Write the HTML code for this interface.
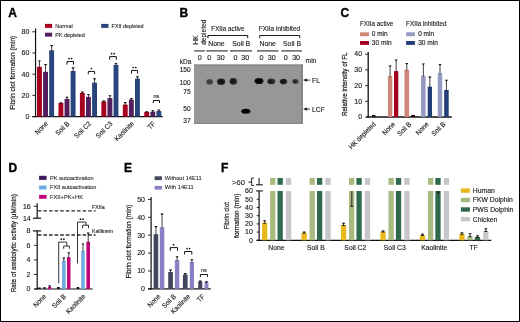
<!DOCTYPE html>
<html><head><meta charset="utf-8"><title>Figure</title>
<style>
html,body{margin:0;padding:0;background:#fff;}
body{width:520px;height:322px;overflow:hidden;}
svg{display:block;font-family:"Liberation Sans",sans-serif;}
</style></head><body>
<svg width="520" height="322" viewBox="0 0 520 322" fill="#1c1c1c">
<defs><filter id="nf" filterUnits="userSpaceOnUse" x="0" y="0" width="520" height="322" color-interpolation-filters="sRGB"><feGaussianBlur stdDeviation="0.35"/></filter></defs>
<rect x="0" y="0" width="520" height="322" fill="#fff"/>
<g filter="url(#nf)">
<text font-size="12" font-weight="bold" fill="#000" stroke="#000" stroke-width="0.35" transform="translate(8.20 17.10)">A</text>
<rect x="45.00" y="23.90" width="7.10" height="4.00" fill="#a6021f"/>
<text font-size="5.5" stroke="#1c1c1c" stroke-width="0.1" transform="translate(55.30 27.90) scale(0.98 1)">Normal</text>
<rect x="45.00" y="32.70" width="7.10" height="3.90" fill="#521e5d"/>
<text font-size="5.5" stroke="#1c1c1c" stroke-width="0.1" transform="translate(55.30 36.60) scale(0.98 1)">PK depleted</text>
<rect x="101.20" y="23.90" width="7.30" height="4.00" fill="#27447d"/>
<text font-size="5.5" stroke="#1c1c1c" stroke-width="0.1" transform="translate(111.60 27.90) scale(0.98 1)">FXII depleted</text>
<line x1="35.55" y1="28.40" x2="35.55" y2="117.20" stroke="#111" stroke-width="1.2"/>
<line x1="32.30" y1="116.60" x2="162.80" y2="116.60" stroke="#111" stroke-width="1.2"/>
<line x1="32.40" y1="116.60" x2="35.50" y2="116.60" stroke="#111" stroke-width="0.9"/>
<text font-size="7.0" text-anchor="end" stroke="#1c1c1c" stroke-width="0.14" transform="translate(29.30 118.90)">0</text>
<line x1="32.40" y1="95.40" x2="35.50" y2="95.40" stroke="#111" stroke-width="0.9"/>
<text font-size="7.0" text-anchor="end" stroke="#1c1c1c" stroke-width="0.14" transform="translate(29.30 97.70)">20</text>
<line x1="32.40" y1="74.20" x2="35.50" y2="74.20" stroke="#111" stroke-width="0.9"/>
<text font-size="7.0" text-anchor="end" stroke="#1c1c1c" stroke-width="0.14" transform="translate(29.30 76.50)">40</text>
<line x1="32.40" y1="53.00" x2="35.50" y2="53.00" stroke="#111" stroke-width="0.9"/>
<text font-size="7.0" text-anchor="end" stroke="#1c1c1c" stroke-width="0.14" transform="translate(29.30 55.30)">60</text>
<line x1="32.40" y1="31.80" x2="35.50" y2="31.80" stroke="#111" stroke-width="0.9"/>
<text font-size="7.0" text-anchor="end" stroke="#1c1c1c" stroke-width="0.14" transform="translate(29.30 34.10)">80</text>
<text font-size="7.4" text-anchor="middle" stroke="#1c1c1c" stroke-width="0.22" textLength="74.0" lengthAdjust="spacingAndGlyphs" transform="translate(15.30 72.70) rotate(-90)">Fibrin clot formation (min)</text>
<rect x="37.00" y="66.80" width="4.90" height="49.80" fill="#a6021f"/>
<line x1="39.45" y1="67.50" x2="39.45" y2="60.90" stroke="#111" stroke-width="0.8"/>
<path d="M37.80 60.40H41.10L40.00 61.80H38.90Z" fill="#111"/>
<rect x="43.10" y="71.80" width="4.90" height="44.80" fill="#521e5d"/>
<line x1="45.55" y1="72.50" x2="45.55" y2="64.60" stroke="#111" stroke-width="0.8"/>
<path d="M43.90 64.10H47.20L46.10 65.50H45.00Z" fill="#111"/>
<rect x="49.20" y="50.30" width="4.90" height="66.30" fill="#27447d"/>
<line x1="51.65" y1="51.00" x2="51.65" y2="45.60" stroke="#111" stroke-width="0.8"/>
<path d="M50.00 45.10H53.30L52.20 46.50H51.10Z" fill="#111"/>
<text font-size="7.0" text-anchor="end" stroke="#1c1c1c" stroke-width="0.14" transform="translate(48.60 124.30) rotate(-45) scale(0.91 1)">None</text>
<rect x="58.45" y="103.00" width="4.90" height="13.60" fill="#a6021f"/>
<line x1="60.90" y1="103.70" x2="60.90" y2="102.70" stroke="#111" stroke-width="0.8"/>
<path d="M59.25 102.20H62.55L61.45 103.60H60.35Z" fill="#111"/>
<rect x="64.55" y="98.90" width="4.90" height="17.70" fill="#521e5d"/>
<line x1="67.00" y1="99.60" x2="67.00" y2="97.20" stroke="#111" stroke-width="0.8"/>
<path d="M65.35 96.70H68.65L67.55 98.10H66.45Z" fill="#111"/>
<rect x="70.65" y="71.00" width="4.90" height="45.60" fill="#27447d"/>
<line x1="73.10" y1="71.70" x2="73.10" y2="67.80" stroke="#111" stroke-width="0.8"/>
<path d="M71.45 67.30H74.75L73.65 68.70H72.55Z" fill="#111"/>
<text font-size="7.0" text-anchor="end" stroke="#1c1c1c" stroke-width="0.14" transform="translate(70.05 124.30) rotate(-45) scale(0.91 1)">Soil B</text>
<rect x="79.90" y="92.90" width="4.90" height="23.70" fill="#a6021f"/>
<line x1="82.35" y1="93.60" x2="82.35" y2="92.10" stroke="#111" stroke-width="0.8"/>
<path d="M80.70 91.60H84.00L82.90 93.00H81.80Z" fill="#111"/>
<rect x="86.00" y="96.90" width="4.90" height="19.70" fill="#521e5d"/>
<line x1="88.45" y1="97.60" x2="88.45" y2="94.40" stroke="#111" stroke-width="0.8"/>
<path d="M86.80 93.90H90.10L89.00 95.30H87.90Z" fill="#111"/>
<rect x="92.10" y="82.70" width="4.90" height="33.90" fill="#27447d"/>
<line x1="94.55" y1="83.40" x2="94.55" y2="78.80" stroke="#111" stroke-width="0.8"/>
<path d="M92.90 78.30H96.20L95.10 79.70H94.00Z" fill="#111"/>
<text font-size="7.0" text-anchor="end" stroke="#1c1c1c" stroke-width="0.14" transform="translate(91.50 124.30) rotate(-45) scale(0.91 1)">Soil C2</text>
<rect x="101.35" y="101.40" width="4.90" height="15.20" fill="#a6021f"/>
<line x1="103.80" y1="102.10" x2="103.80" y2="101.00" stroke="#111" stroke-width="0.8"/>
<path d="M102.15 100.50H105.45L104.35 101.90H103.25Z" fill="#111"/>
<rect x="107.45" y="98.10" width="4.90" height="18.50" fill="#521e5d"/>
<line x1="109.90" y1="98.80" x2="109.90" y2="95.70" stroke="#111" stroke-width="0.8"/>
<path d="M108.25 95.20H111.55L110.45 96.60H109.35Z" fill="#111"/>
<rect x="113.55" y="64.90" width="4.90" height="51.70" fill="#27447d"/>
<line x1="116.00" y1="65.60" x2="116.00" y2="63.40" stroke="#111" stroke-width="0.8"/>
<path d="M114.35 62.90H117.65L116.55 64.30H115.45Z" fill="#111"/>
<text font-size="7.0" text-anchor="end" stroke="#1c1c1c" stroke-width="0.14" transform="translate(112.95 124.30) rotate(-45) scale(0.91 1)">Soil C3</text>
<rect x="122.80" y="104.60" width="4.90" height="12.00" fill="#a6021f"/>
<line x1="125.25" y1="105.30" x2="125.25" y2="102.60" stroke="#111" stroke-width="0.8"/>
<path d="M123.60 102.10H126.90L125.80 103.50H124.70Z" fill="#111"/>
<rect x="128.90" y="99.60" width="4.90" height="17.00" fill="#521e5d"/>
<line x1="131.35" y1="100.30" x2="131.35" y2="98.40" stroke="#111" stroke-width="0.8"/>
<path d="M129.70 97.90H133.00L131.90 99.30H130.80Z" fill="#111"/>
<rect x="135.00" y="78.70" width="4.90" height="37.90" fill="#27447d"/>
<line x1="137.45" y1="79.40" x2="137.45" y2="76.80" stroke="#111" stroke-width="0.8"/>
<path d="M135.80 76.30H139.10L138.00 77.70H136.90Z" fill="#111"/>
<text font-size="7.0" text-anchor="end" stroke="#1c1c1c" stroke-width="0.14" transform="translate(134.40 124.30) rotate(-45) scale(0.91 1)">Kaolinite</text>
<rect x="144.25" y="111.90" width="4.90" height="4.70" fill="#a6021f"/>
<line x1="146.70" y1="112.60" x2="146.70" y2="111.70" stroke="#111" stroke-width="0.8"/>
<path d="M145.05 111.20H148.35L147.25 112.60H146.15Z" fill="#111"/>
<rect x="150.35" y="111.70" width="4.90" height="4.90" fill="#521e5d"/>
<line x1="152.80" y1="112.40" x2="152.80" y2="110.70" stroke="#111" stroke-width="0.8"/>
<path d="M151.15 110.20H154.45L153.35 111.60H152.25Z" fill="#111"/>
<rect x="156.45" y="111.00" width="4.90" height="5.60" fill="#27447d"/>
<line x1="158.90" y1="111.70" x2="158.90" y2="109.90" stroke="#111" stroke-width="0.8"/>
<path d="M157.25 109.40H160.55L159.45 110.80H158.35Z" fill="#111"/>
<text font-size="7.0" text-anchor="end" stroke="#1c1c1c" stroke-width="0.14" transform="translate(155.85 124.30) rotate(-45) scale(0.91 1)">TF</text>
<path d="M67.00 64.60V61.50H73.50V64.60" fill="none" stroke="#111" stroke-width="1.0"/>
<circle cx="68.90" cy="58.60" r="0.85" fill="#111"/>
<circle cx="71.50" cy="58.60" r="0.85" fill="#111"/>
<path d="M88.30 74.30V71.40H94.60V74.30" fill="none" stroke="#111" stroke-width="1.0"/>
<circle cx="91.40" cy="68.50" r="0.85" fill="#111"/>
<path d="M109.70 59.70V56.60H116.30V59.70" fill="none" stroke="#111" stroke-width="1.0"/>
<circle cx="111.60" cy="53.70" r="0.85" fill="#111"/>
<circle cx="114.20" cy="53.70" r="0.85" fill="#111"/>
<path d="M131.50 73.50V70.40H137.60V73.50" fill="none" stroke="#111" stroke-width="1.0"/>
<circle cx="133.20" cy="67.50" r="0.85" fill="#111"/>
<circle cx="135.80" cy="67.50" r="0.85" fill="#111"/>
<path d="M153.30 103.00V100.50H159.50V103.00" fill="none" stroke="#111" stroke-width="1.0"/>
<text font-size="5.6" text-anchor="middle" stroke="#1c1c1c" stroke-width="0.12" transform="translate(156.40 97.60)">ns</text>
<text font-size="12" font-weight="bold" fill="#000" stroke="#000" stroke-width="0.35" transform="translate(179.50 16.90)">B</text>
<text font-size="6.8" stroke="#1c1c1c" stroke-width="0.14" transform="translate(197.90 44.80) rotate(-90)">HK</text>
<text font-size="7.2" stroke="#1c1c1c" stroke-width="0.14" textLength="25.0" lengthAdjust="spacingAndGlyphs" transform="translate(205.60 44.80) rotate(-90)">depleted</text>
<text font-size="7.0" stroke="#1c1c1c" stroke-width="0.14" textLength="33.2" lengthAdjust="spacingAndGlyphs" transform="translate(211.30 30.60)">FXIIa active</text>
<path d="M208.00 38.20V35.50H247.70V38.20" fill="none" stroke="#111" stroke-width="0.95"/>
<text font-size="7.0" stroke="#1c1c1c" stroke-width="0.14" textLength="41.4" lengthAdjust="spacingAndGlyphs" transform="translate(258.70 30.60)">FXIIa inhibited</text>
<path d="M259.70 38.20V35.50H299.70V38.20" fill="none" stroke="#111" stroke-width="0.95"/>
<text font-size="6.9" text-anchor="middle" stroke="#1c1c1c" stroke-width="0.14" transform="translate(216.40 45.80)">None</text>
<text font-size="6.9" text-anchor="middle" stroke="#1c1c1c" stroke-width="0.14" transform="translate(241.20 45.80)">Soil B</text>
<text font-size="6.9" text-anchor="middle" stroke="#1c1c1c" stroke-width="0.14" transform="translate(267.70 45.80)">None</text>
<text font-size="6.9" text-anchor="middle" stroke="#1c1c1c" stroke-width="0.14" transform="translate(292.00 45.80)">Soil B</text>
<line x1="194.20" y1="50.90" x2="204.70" y2="50.90" stroke="#3a3a3a" stroke-width="1.2"/>
<line x1="206.20" y1="50.90" x2="227.80" y2="50.90" stroke="#3a3a3a" stroke-width="1.2"/>
<line x1="230.00" y1="50.90" x2="252.10" y2="50.90" stroke="#3a3a3a" stroke-width="1.2"/>
<line x1="257.00" y1="50.90" x2="278.40" y2="50.90" stroke="#3a3a3a" stroke-width="1.2"/>
<line x1="281.30" y1="50.90" x2="302.00" y2="50.90" stroke="#3a3a3a" stroke-width="1.2"/>
<text font-size="7.0" stroke="#1c1c1c" stroke-width="0.14" transform="translate(179.80 63.50) scale(0.93 1)">kDa</text>
<text font-size="7.1" text-anchor="middle" stroke="#1c1c1c" stroke-width="0.14" transform="translate(199.80 60.20)">0</text>
<text font-size="7.1" text-anchor="middle" stroke="#1c1c1c" stroke-width="0.14" transform="translate(209.30 60.20)">0</text>
<text font-size="7.1" text-anchor="middle" stroke="#1c1c1c" stroke-width="0.14" transform="translate(220.70 60.20)">30</text>
<text font-size="7.1" text-anchor="middle" stroke="#1c1c1c" stroke-width="0.14" transform="translate(235.50 60.20)">0</text>
<text font-size="7.1" text-anchor="middle" stroke="#1c1c1c" stroke-width="0.14" transform="translate(245.30 60.20)">30</text>
<text font-size="7.1" text-anchor="middle" stroke="#1c1c1c" stroke-width="0.14" transform="translate(261.40 60.20)">0</text>
<text font-size="7.1" text-anchor="middle" stroke="#1c1c1c" stroke-width="0.14" transform="translate(271.80 60.20)">30</text>
<text font-size="7.1" text-anchor="middle" stroke="#1c1c1c" stroke-width="0.14" transform="translate(285.70 60.20)">0</text>
<text font-size="7.1" text-anchor="middle" stroke="#1c1c1c" stroke-width="0.14" transform="translate(296.10 60.20)">30</text>
<text font-size="7.0" stroke="#1c1c1c" stroke-width="0.14" transform="translate(305.60 62.90) scale(0.95 1)">min</text>
<defs><filter id="bl" x="-50%" y="-50%" width="200%" height="200%" color-interpolation-filters="sRGB"><feGaussianBlur stdDeviation="0.75"/></filter></defs>
<rect x="194.00" y="64.60" width="108.50" height="59.30" fill="#979797"/>
<line x1="194.00" y1="65.00" x2="302.50" y2="65.00" stroke="#777777" stroke-width="0.8"/>
<line x1="302.20" y1="64.30" x2="302.20" y2="123.80" stroke="#5c5c5c" stroke-width="0.9"/>
<line x1="194.00" y1="123.40" x2="302.60" y2="123.40" stroke="#7a7a7a" stroke-width="0.7"/>
<g filter="url(#bl)">
<ellipse cx="209.7" cy="81.8" rx="3.4" ry="2.9" fill="#4a4a4a"/>
<ellipse cx="209.39999999999998" cy="81.8" rx="2.2" ry="1.9" fill="#3a3a3a"/>
<ellipse cx="221.1" cy="81.8" rx="4.1" ry="3.3" fill="#262626"/>
<ellipse cx="221.1" cy="81.8" rx="2.6" ry="2.2" fill="#141414"/>
<ellipse cx="233.3" cy="81.3" rx="3.8" ry="3.4" fill="#2c2c2c"/>
<ellipse cx="232.8" cy="81.3" rx="2.4" ry="2.2" fill="#181818"/>
<ellipse cx="259.0" cy="81.0" rx="4.5" ry="3.1" fill="#141414"/>
<ellipse cx="259.0" cy="81.0" rx="3.4" ry="2.2" fill="#060606"/>
<ellipse cx="271.3" cy="81.4" rx="4.0" ry="2.8" fill="#333333"/>
<ellipse cx="270.40000000000003" cy="81.4" rx="2.4" ry="2.0" fill="#1a1a1a"/>
<ellipse cx="283.5" cy="81.6" rx="3.7" ry="2.8" fill="#2a2a2a"/>
<ellipse cx="283.2" cy="81.6" rx="2.4" ry="2.0" fill="#161616"/>
<ellipse cx="295.5" cy="81.4" rx="3.2" ry="2.5" fill="#444444"/>
<ellipse cx="295.0" cy="81.4" rx="2.0" ry="1.8" fill="#2a2a2a"/>
<ellipse cx="245.8" cy="111.3" rx="4.6" ry="2.5" fill="#0a0a0a"/>
<ellipse cx="245.3" cy="111.3" rx="3.4" ry="1.8" fill="#000000"/>
</g>
<text font-size="6.9" text-anchor="end" stroke="#1c1c1c" stroke-width="0.14" transform="translate(190.60 71.70) scale(0.95 1)">150</text>
<text font-size="6.9" text-anchor="end" stroke="#1c1c1c" stroke-width="0.14" transform="translate(190.60 84.70) scale(0.95 1)">100</text>
<text font-size="6.9" text-anchor="end" stroke="#1c1c1c" stroke-width="0.14" transform="translate(190.60 93.50) scale(0.95 1)">75</text>
<text font-size="6.9" text-anchor="end" stroke="#1c1c1c" stroke-width="0.14" transform="translate(190.60 110.80) scale(0.95 1)">50</text>
<text font-size="6.9" text-anchor="end" stroke="#1c1c1c" stroke-width="0.14" transform="translate(190.60 123.30) scale(0.95 1)">37</text>
<line x1="305.00" y1="80.10" x2="309.80" y2="80.10" stroke="#111" stroke-width="0.9"/>
<path d="M303.2 80.10L306.8 78.40L306.8 81.80Z" fill="#111"/>
<text font-size="7.1" stroke="#1c1c1c" stroke-width="0.14" transform="translate(312.10 82.60) scale(0.95 1)">FL</text>
<line x1="305.00" y1="109.10" x2="309.80" y2="109.10" stroke="#111" stroke-width="0.9"/>
<path d="M303.2 109.10L306.8 107.40L306.8 110.80Z" fill="#111"/>
<text font-size="7.1" stroke="#1c1c1c" stroke-width="0.14" transform="translate(312.10 111.60) scale(0.95 1)">LCF</text>
<text font-size="12" font-weight="bold" fill="#000" stroke="#000" stroke-width="0.35" transform="translate(340.60 17.00)">C</text>
<text font-size="6.8" stroke="#1c1c1c" stroke-width="0.14" transform="translate(360.00 25.90) scale(0.93 1)">FXIIa active</text>
<text font-size="6.8" stroke="#1c1c1c" stroke-width="0.14" transform="translate(406.10 25.90) scale(0.93 1)">FXIIa inhibited</text>
<rect x="360.00" y="32.30" width="9.00" height="3.90" fill="#cf8878"/>
<text font-size="6.6" stroke="#1c1c1c" stroke-width="0.14" transform="translate(371.80 36.30) scale(0.98 1)">0 min</text>
<rect x="360.00" y="41.00" width="9.00" height="3.90" fill="#a6021f"/>
<text font-size="6.6" stroke="#1c1c1c" stroke-width="0.14" transform="translate(371.80 45.00)">30 min</text>
<rect x="406.10" y="32.30" width="8.80" height="3.90" fill="#9399c0"/>
<text font-size="6.6" stroke="#1c1c1c" stroke-width="0.14" transform="translate(418.20 36.30) scale(0.98 1)">0 min</text>
<rect x="406.10" y="41.00" width="8.80" height="3.90" fill="#223f7a"/>
<text font-size="6.6" stroke="#1c1c1c" stroke-width="0.14" transform="translate(418.20 45.00)">30 min</text>
<line x1="368.20" y1="52.00" x2="368.20" y2="117.60" stroke="#111" stroke-width="1.3"/>
<line x1="366.50" y1="117.00" x2="451.80" y2="117.00" stroke="#111" stroke-width="1.3"/>
<line x1="365.20" y1="117.00" x2="368.20" y2="117.00" stroke="#111" stroke-width="0.9"/>
<text font-size="6.9" text-anchor="end" stroke="#1c1c1c" stroke-width="0.14" transform="translate(362.00 119.20)">0</text>
<line x1="365.20" y1="101.30" x2="368.20" y2="101.30" stroke="#111" stroke-width="0.9"/>
<text font-size="6.9" text-anchor="end" stroke="#1c1c1c" stroke-width="0.14" transform="translate(362.00 103.50)">10</text>
<line x1="365.20" y1="85.60" x2="368.20" y2="85.60" stroke="#111" stroke-width="0.9"/>
<text font-size="6.9" text-anchor="end" stroke="#1c1c1c" stroke-width="0.14" transform="translate(362.00 87.80)">20</text>
<line x1="365.20" y1="69.90" x2="368.20" y2="69.90" stroke="#111" stroke-width="0.9"/>
<text font-size="6.9" text-anchor="end" stroke="#1c1c1c" stroke-width="0.14" transform="translate(362.00 72.10)">30</text>
<line x1="365.20" y1="54.20" x2="368.20" y2="54.20" stroke="#111" stroke-width="0.9"/>
<text font-size="6.9" text-anchor="end" stroke="#1c1c1c" stroke-width="0.14" transform="translate(362.00 56.40)">40</text>
<text font-size="7.6" text-anchor="middle" stroke="#1c1c1c" stroke-width="0.24" textLength="63.5" lengthAdjust="spacingAndGlyphs" transform="translate(347.30 84.20) rotate(-90)">Relative intensity of FL</text>
<rect x="372.00" y="114.90" width="3.40" height="2.10" fill="#111111"/>
<rect x="387.90" y="76.10" width="4.40" height="40.90" fill="#cf8878"/>
<line x1="390.10" y1="76.80" x2="390.10" y2="65.90" stroke="#111" stroke-width="0.8"/>
<path d="M388.45 65.40H391.75L390.65 66.80H389.55Z" fill="#111"/>
<rect x="394.00" y="71.10" width="4.30" height="45.90" fill="#a6021f"/>
<line x1="396.15" y1="71.80" x2="396.15" y2="59.90" stroke="#111" stroke-width="0.8"/>
<path d="M394.50 59.40H397.80L396.70 60.80H395.60Z" fill="#111"/>
<rect x="404.50" y="69.80" width="4.60" height="47.20" fill="#cf8878"/>
<line x1="406.80" y1="70.50" x2="406.80" y2="63.40" stroke="#111" stroke-width="0.8"/>
<path d="M405.15 62.90H408.45L407.35 64.30H406.25Z" fill="#111"/>
<rect x="411.20" y="114.90" width="3.80" height="2.10" fill="#1c0409"/>
<rect x="421.10" y="75.80" width="4.50" height="41.20" fill="#9399c0"/>
<line x1="423.35" y1="76.50" x2="423.35" y2="63.90" stroke="#111" stroke-width="0.8"/>
<path d="M421.70 63.40H425.00L423.90 64.80H422.80Z" fill="#111"/>
<rect x="427.70" y="86.70" width="4.30" height="30.30" fill="#223f7a"/>
<line x1="429.85" y1="87.40" x2="429.85" y2="77.10" stroke="#111" stroke-width="0.8"/>
<path d="M428.20 76.60H431.50L430.40 78.00H429.30Z" fill="#111"/>
<rect x="437.80" y="73.30" width="4.40" height="43.70" fill="#9399c0"/>
<line x1="440.00" y1="74.00" x2="440.00" y2="64.40" stroke="#111" stroke-width="0.8"/>
<path d="M438.35 63.90H441.65L440.55 65.30H439.45Z" fill="#111"/>
<rect x="444.20" y="90.00" width="4.50" height="27.00" fill="#223f7a"/>
<line x1="446.45" y1="90.70" x2="446.45" y2="80.30" stroke="#111" stroke-width="0.8"/>
<path d="M444.80 79.80H448.10L447.00 81.20H445.90Z" fill="#111"/>
<text font-size="7.0" text-anchor="end" stroke="#1c1c1c" stroke-width="0.14" transform="translate(376.30 124.70) rotate(-45) scale(0.91 1)">HK depleted</text>
<text font-size="7.0" text-anchor="end" stroke="#1c1c1c" stroke-width="0.14" transform="translate(395.70 124.70) rotate(-45) scale(0.91 1)">None</text>
<text font-size="7.0" text-anchor="end" stroke="#1c1c1c" stroke-width="0.14" transform="translate(411.70 124.70) rotate(-45) scale(0.91 1)">Soil B</text>
<text font-size="7.0" text-anchor="end" stroke="#1c1c1c" stroke-width="0.14" transform="translate(429.30 124.70) rotate(-45) scale(0.91 1)">None</text>
<text font-size="7.0" text-anchor="end" stroke="#1c1c1c" stroke-width="0.14" transform="translate(446.00 124.70) rotate(-45) scale(0.91 1)">Soil B</text>
<text font-size="12" font-weight="bold" fill="#000" stroke="#000" stroke-width="0.35" transform="translate(8.40 171.70)">D</text>
<rect x="39.10" y="175.80" width="7.50" height="4.10" fill="#3d1b5b"/>
<text font-size="5.6" stroke="#1c1c1c" stroke-width="0.08" transform="translate(50.00 179.80)">PK autoactivation</text>
<rect x="39.10" y="185.60" width="7.50" height="3.90" fill="#6aa9e2"/>
<text font-size="5.6" stroke="#1c1c1c" stroke-width="0.08" transform="translate(50.00 189.30)">FXII autoactivation</text>
<rect x="39.10" y="194.90" width="7.50" height="3.90" fill="#c2047a"/>
<text font-size="5.7" stroke="#1c1c1c" stroke-width="0.08" textLength="33.0" lengthAdjust="spacingAndGlyphs" transform="translate(50.00 198.90)">FXII+PK+HK</text>
<line x1="37.20" y1="203.20" x2="37.20" y2="218.20" stroke="#111" stroke-width="1.2"/>
<line x1="33.90" y1="206.30" x2="37.20" y2="206.30" stroke="#111" stroke-width="0.9"/>
<line x1="33.00" y1="218.20" x2="41.10" y2="218.20" stroke="#111" stroke-width="1.2"/>
<text font-size="7.0" text-anchor="end" stroke="#1c1c1c" stroke-width="0.14" transform="translate(30.70 208.50)">16</text>
<text font-size="7.0" text-anchor="end" stroke="#1c1c1c" stroke-width="0.14" transform="translate(30.70 220.50)">14</text>
<line x1="33.00" y1="230.90" x2="41.10" y2="230.90" stroke="#111" stroke-width="1.2"/>
<line x1="37.20" y1="230.90" x2="37.20" y2="289.60" stroke="#111" stroke-width="1.2"/>
<line x1="34.00" y1="289.00" x2="37.20" y2="289.00" stroke="#111" stroke-width="0.9"/>
<text font-size="7.0" text-anchor="end" stroke="#1c1c1c" stroke-width="0.14" transform="translate(30.30 291.30)">0</text>
<line x1="34.00" y1="274.46" x2="37.20" y2="274.46" stroke="#111" stroke-width="0.9"/>
<text font-size="7.0" text-anchor="end" stroke="#1c1c1c" stroke-width="0.14" transform="translate(30.30 276.76)">2</text>
<line x1="34.00" y1="259.92" x2="37.20" y2="259.92" stroke="#111" stroke-width="0.9"/>
<text font-size="7.0" text-anchor="end" stroke="#1c1c1c" stroke-width="0.14" transform="translate(30.30 262.22)">4</text>
<line x1="34.00" y1="245.38" x2="37.20" y2="245.38" stroke="#111" stroke-width="0.9"/>
<text font-size="7.0" text-anchor="end" stroke="#1c1c1c" stroke-width="0.14" transform="translate(30.30 247.68)">6</text>
<text font-size="7.0" text-anchor="end" stroke="#1c1c1c" stroke-width="0.14" transform="translate(30.30 233.20)">8</text>
<line x1="34.40" y1="289.00" x2="92.70" y2="289.00" stroke="#111" stroke-width="1.2"/>
<line x1="37.8" y1="210.8" x2="95.6" y2="210.8" stroke="#2a2a2a" stroke-width="1.3" stroke-dasharray="3.6 2.0"/>
<line x1="37.8" y1="235.0" x2="95.6" y2="235.0" stroke="#2a2a2a" stroke-width="1.3" stroke-dasharray="3.6 2.0"/>
<text font-size="5.3" stroke="#1c1c1c" stroke-width="0.1" transform="translate(92.00 209.30)">FXIIa</text>
<text font-size="5.2" stroke="#1c1c1c" stroke-width="0.1" transform="translate(92.00 233.40)">Kallikrein</text>
<text font-size="7.3" text-anchor="middle" stroke="#1c1c1c" stroke-width="0.22" textLength="98.0" lengthAdjust="spacingAndGlyphs" transform="translate(16.30 243.20) rotate(-90)">Rate of amidolytic activity (μM/min)</text>
<rect x="37.60" y="287.50" width="3.20" height="1.50" fill="#121018"/>
<rect x="42.90" y="287.20" width="3.20" height="1.80" fill="#1c3452"/>
<rect x="48.00" y="286.70" width="3.30" height="2.30" fill="#c2047a"/>
<line x1="49.65" y1="287.40" x2="49.65" y2="285.80" stroke="#111" stroke-width="0.8"/>
<path d="M48.25 285.30H51.05L50.20 286.70H49.10Z" fill="#111"/>
<rect x="57.10" y="287.00" width="2.70" height="2.00" fill="#121018"/>
<rect x="62.10" y="261.00" width="3.50" height="28.00" fill="#6aa9e2"/>
<line x1="63.85" y1="261.70" x2="63.85" y2="258.10" stroke="#111" stroke-width="0.8"/>
<path d="M62.45 257.60H65.25L64.40 259.00H63.30Z" fill="#111"/>
<rect x="67.00" y="257.20" width="3.50" height="31.80" fill="#c2047a"/>
<line x1="68.75" y1="257.90" x2="68.75" y2="252.80" stroke="#111" stroke-width="0.8"/>
<path d="M67.35 252.30H70.15L69.30 253.70H68.20Z" fill="#111"/>
<rect x="76.70" y="287.00" width="2.50" height="2.00" fill="#121018"/>
<rect x="81.30" y="251.00" width="3.40" height="38.00" fill="#6aa9e2"/>
<line x1="83.00" y1="251.70" x2="83.00" y2="243.90" stroke="#111" stroke-width="0.8"/>
<path d="M81.60 243.40H84.40L83.55 244.80H82.45Z" fill="#111"/>
<rect x="86.40" y="241.80" width="3.60" height="47.20" fill="#c2047a"/>
<line x1="88.20" y1="242.50" x2="88.20" y2="233.00" stroke="#111" stroke-width="0.8"/>
<path d="M86.80 232.50H89.60L88.75 233.90H87.65Z" fill="#111"/>
<path d="M58.7 283.2V242.1H66.8V246.0" fill="none" stroke="#111" stroke-width="0.85"/>
<path d="M63.70 248.80V246.00H69.40V248.80" fill="none" stroke="#111" stroke-width="0.85"/>
<circle cx="61.30" cy="239.20" r="0.85" fill="#111"/>
<circle cx="63.90" cy="239.20" r="0.85" fill="#111"/>
<path d="M77.5 263.4V222.1H86.0V225.2" fill="none" stroke="#111" stroke-width="0.85"/>
<path d="M82.60 228.30V225.20H88.50V228.30" fill="none" stroke="#111" stroke-width="0.85"/>
<circle cx="80.50" cy="219.20" r="0.85" fill="#111"/>
<circle cx="83.10" cy="219.20" r="0.85" fill="#111"/>
<text font-size="7.0" text-anchor="end" stroke="#1c1c1c" stroke-width="0.14" transform="translate(46.80 297.00) rotate(-45) scale(0.91 1)">None</text>
<text font-size="7.0" text-anchor="end" stroke="#1c1c1c" stroke-width="0.14" transform="translate(66.50 297.00) rotate(-45) scale(0.91 1)">Soil B</text>
<text font-size="7.0" text-anchor="end" stroke="#1c1c1c" stroke-width="0.14" transform="translate(86.10 297.00) rotate(-45) scale(0.91 1)">Kaolinite</text>
<text font-size="12" font-weight="bold" fill="#000" stroke="#000" stroke-width="0.35" transform="translate(124.10 171.70)">E</text>
<rect x="154.60" y="176.30" width="7.30" height="3.80" fill="#42475e"/>
<text font-size="5.7" stroke="#1c1c1c" stroke-width="0.08" transform="translate(164.80 180.10)">Without 14E11</text>
<rect x="154.60" y="185.90" width="7.30" height="3.70" fill="#8a80c4"/>
<text font-size="5.7" stroke="#1c1c1c" stroke-width="0.08" transform="translate(164.80 189.40)">With 14E11</text>
<line x1="151.10" y1="197.00" x2="151.10" y2="289.50" stroke="#111" stroke-width="1.2"/>
<line x1="148.10" y1="288.90" x2="210.70" y2="288.90" stroke="#111" stroke-width="1.2"/>
<line x1="148.00" y1="288.90" x2="151.10" y2="288.90" stroke="#111" stroke-width="0.9"/>
<text font-size="7.0" text-anchor="end" stroke="#1c1c1c" stroke-width="0.14" transform="translate(145.00 291.20)">0</text>
<line x1="148.00" y1="271.00" x2="151.10" y2="271.00" stroke="#111" stroke-width="0.9"/>
<text font-size="7.0" text-anchor="end" stroke="#1c1c1c" stroke-width="0.14" transform="translate(145.00 273.30)">10</text>
<line x1="148.00" y1="253.10" x2="151.10" y2="253.10" stroke="#111" stroke-width="0.9"/>
<text font-size="7.0" text-anchor="end" stroke="#1c1c1c" stroke-width="0.14" transform="translate(145.00 255.40)">20</text>
<line x1="148.00" y1="235.20" x2="151.10" y2="235.20" stroke="#111" stroke-width="0.9"/>
<text font-size="7.0" text-anchor="end" stroke="#1c1c1c" stroke-width="0.14" transform="translate(145.00 237.50)">30</text>
<line x1="148.00" y1="217.30" x2="151.10" y2="217.30" stroke="#111" stroke-width="0.9"/>
<text font-size="7.0" text-anchor="end" stroke="#1c1c1c" stroke-width="0.14" transform="translate(145.00 219.60)">40</text>
<line x1="148.00" y1="199.40" x2="151.10" y2="199.40" stroke="#111" stroke-width="0.9"/>
<text font-size="7.0" text-anchor="end" stroke="#1c1c1c" stroke-width="0.14" transform="translate(145.00 201.70)">50</text>
<text font-size="7.4" text-anchor="middle" stroke="#1c1c1c" stroke-width="0.22" textLength="74.0" lengthAdjust="spacingAndGlyphs" transform="translate(130.70 241.60) rotate(-90)">Fibrin clot formation (min)</text>
<rect x="153.60" y="234.20" width="4.60" height="54.70" fill="#42475e"/>
<line x1="155.90" y1="234.90" x2="155.90" y2="226.50" stroke="#111" stroke-width="0.8"/>
<path d="M154.25 226.00H157.55L156.45 227.40H155.35Z" fill="#111"/>
<rect x="159.80" y="227.30" width="4.50" height="61.60" fill="#8a80c4"/>
<line x1="162.05" y1="228.00" x2="162.05" y2="214.10" stroke="#111" stroke-width="0.8"/>
<path d="M160.40 213.60H163.70L162.60 215.00H161.50Z" fill="#111"/>
<rect x="168.20" y="272.00" width="4.70" height="16.90" fill="#42475e"/>
<line x1="170.55" y1="272.70" x2="170.55" y2="270.00" stroke="#111" stroke-width="0.8"/>
<path d="M168.90 269.50H172.20L171.10 270.90H170.00Z" fill="#111"/>
<rect x="174.90" y="260.00" width="4.40" height="28.90" fill="#8a80c4"/>
<line x1="177.10" y1="260.70" x2="177.10" y2="256.70" stroke="#111" stroke-width="0.8"/>
<path d="M175.45 256.20H178.75L177.65 257.60H176.55Z" fill="#111"/>
<rect x="182.90" y="274.60" width="4.70" height="14.30" fill="#42475e"/>
<line x1="185.25" y1="275.30" x2="185.25" y2="273.50" stroke="#111" stroke-width="0.8"/>
<path d="M183.60 273.00H186.90L185.80 274.40H184.70Z" fill="#111"/>
<rect x="189.80" y="262.00" width="4.20" height="26.90" fill="#8a80c4"/>
<line x1="191.90" y1="262.70" x2="191.90" y2="259.70" stroke="#111" stroke-width="0.8"/>
<path d="M190.25 259.20H193.55L192.45 260.60H191.35Z" fill="#111"/>
<rect x="198.20" y="281.50" width="4.10" height="7.40" fill="#42475e"/>
<line x1="200.25" y1="282.20" x2="200.25" y2="281.10" stroke="#111" stroke-width="0.8"/>
<path d="M198.60 280.60H201.90L200.80 282.00H199.70Z" fill="#111"/>
<rect x="204.50" y="282.20" width="3.90" height="6.70" fill="#8a80c4"/>
<line x1="206.45" y1="282.90" x2="206.45" y2="281.80" stroke="#111" stroke-width="0.8"/>
<path d="M204.80 281.30H208.10L207.00 282.70H205.90Z" fill="#111"/>
<path d="M170.30 250.80V247.60H177.50V250.80" fill="none" stroke="#111" stroke-width="1.0"/>
<circle cx="173.60" cy="244.70" r="0.85" fill="#111"/>
<path d="M184.60 254.50V251.50H191.80V254.50" fill="none" stroke="#111" stroke-width="1.0"/>
<circle cx="187.00" cy="248.60" r="0.85" fill="#111"/>
<circle cx="189.60" cy="248.60" r="0.85" fill="#111"/>
<path d="M200.40 277.10V274.50H207.40V277.10" fill="none" stroke="#111" stroke-width="1.0"/>
<text font-size="5.6" text-anchor="middle" stroke="#1c1c1c" stroke-width="0.12" transform="translate(203.90 271.60)">ns</text>
<text font-size="7.0" text-anchor="end" stroke="#1c1c1c" stroke-width="0.14" transform="translate(161.10 296.90) rotate(-45) scale(0.91 1)">None</text>
<text font-size="7.0" text-anchor="end" stroke="#1c1c1c" stroke-width="0.14" transform="translate(176.50 296.90) rotate(-45) scale(0.91 1)">Soil B</text>
<text font-size="7.0" text-anchor="end" stroke="#1c1c1c" stroke-width="0.14" transform="translate(190.70 296.90) rotate(-45) scale(0.91 1)">Kaolinite</text>
<text font-size="7.0" text-anchor="end" stroke="#1c1c1c" stroke-width="0.14" transform="translate(205.30 296.90) rotate(-45) scale(0.91 1)">TF</text>
<text font-size="12" font-weight="bold" fill="#000" stroke="#000" stroke-width="0.35" transform="translate(221.00 171.50)">F</text>
<text font-size="6.9" stroke="#1c1c1c" stroke-width="0.1" textLength="12.9" lengthAdjust="spacingAndGlyphs" transform="translate(232.00 184.70)">&gt;60</text>
<line x1="248.30" y1="182.10" x2="251.30" y2="182.10" stroke="#111" stroke-width="0.9"/>
<path d="M254.0 178.1H251.6V185.4H254.0" fill="none" stroke="#111" stroke-width="0.9"/>
<line x1="259.10" y1="178.00" x2="259.10" y2="184.80" stroke="#111" stroke-width="1.0"/>
<line x1="256.00" y1="184.80" x2="262.80" y2="184.80" stroke="#111" stroke-width="1.1"/>
<line x1="256.00" y1="190.90" x2="262.80" y2="190.90" stroke="#111" stroke-width="1.1"/>
<line x1="259.10" y1="190.90" x2="259.10" y2="240.90" stroke="#111" stroke-width="1.2"/>
<line x1="256.60" y1="240.30" x2="491.30" y2="240.30" stroke="#111" stroke-width="1.2"/>
<line x1="256.70" y1="240.30" x2="259.10" y2="240.30" stroke="#111" stroke-width="0.9"/>
<text font-size="7.0" text-anchor="end" stroke="#1c1c1c" stroke-width="0.14" transform="translate(252.90 242.60)">0</text>
<line x1="256.70" y1="232.10" x2="259.10" y2="232.10" stroke="#111" stroke-width="0.9"/>
<text font-size="7.0" text-anchor="end" stroke="#1c1c1c" stroke-width="0.14" transform="translate(252.90 234.40)">10</text>
<line x1="256.70" y1="223.90" x2="259.10" y2="223.90" stroke="#111" stroke-width="0.9"/>
<text font-size="7.0" text-anchor="end" stroke="#1c1c1c" stroke-width="0.14" transform="translate(252.90 226.20)">20</text>
<line x1="256.70" y1="215.70" x2="259.10" y2="215.70" stroke="#111" stroke-width="0.9"/>
<text font-size="7.0" text-anchor="end" stroke="#1c1c1c" stroke-width="0.14" transform="translate(252.90 218.00)">30</text>
<line x1="256.70" y1="207.50" x2="259.10" y2="207.50" stroke="#111" stroke-width="0.9"/>
<text font-size="7.0" text-anchor="end" stroke="#1c1c1c" stroke-width="0.14" transform="translate(252.90 209.80)">40</text>
<line x1="256.70" y1="199.30" x2="259.10" y2="199.30" stroke="#111" stroke-width="0.9"/>
<text font-size="7.0" text-anchor="end" stroke="#1c1c1c" stroke-width="0.14" transform="translate(252.90 201.60)">50</text>
<text font-size="7.0" text-anchor="end" stroke="#1c1c1c" stroke-width="0.14" transform="translate(252.90 193.40)">60</text>
<text font-size="7.2" text-anchor="middle" stroke="#1c1c1c" stroke-width="0.2" textLength="27.2" lengthAdjust="spacingAndGlyphs" transform="translate(229.30 215.70) rotate(-90)">Fibrin clot</text>
<text font-size="7.2" text-anchor="middle" stroke="#1c1c1c" stroke-width="0.2" textLength="44.5" lengthAdjust="spacingAndGlyphs" transform="translate(239.10 215.70) rotate(-90)">formation (min)</text>
<rect x="262.00" y="222.80" width="5.30" height="17.50" fill="#e9b81c"/>
<line x1="264.65" y1="222.80" x2="264.65" y2="220.30" stroke="#111" stroke-width="0.85"/>
<line x1="263.25" y1="220.75" x2="266.05" y2="220.75" stroke="#111" stroke-width="0.95"/>
<line x1="263.25" y1="223.20" x2="266.05" y2="223.20" stroke="#111" stroke-width="0.9"/>
<rect x="270.10" y="178.00" width="5.30" height="6.80" fill="#a9ba80"/>
<rect x="270.10" y="191.00" width="5.30" height="49.30" fill="#a9ba80"/>
<rect x="277.50" y="178.00" width="5.30" height="6.80" fill="#30694d"/>
<rect x="277.50" y="191.00" width="5.30" height="49.30" fill="#30694d"/>
<rect x="285.90" y="178.00" width="5.30" height="6.80" fill="#c6c5ca"/>
<rect x="285.90" y="191.00" width="5.30" height="49.30" fill="#c6c5ca"/>
<text font-size="6.8" text-anchor="middle" stroke="#1c1c1c" stroke-width="0.14" transform="translate(276.40 249.90)">None</text>
<rect x="301.46" y="232.80" width="5.30" height="7.50" fill="#e9b81c"/>
<line x1="304.11" y1="232.80" x2="304.11" y2="231.60" stroke="#111" stroke-width="0.85"/>
<line x1="302.71" y1="232.05" x2="305.51" y2="232.05" stroke="#111" stroke-width="0.95"/>
<line x1="302.71" y1="233.20" x2="305.51" y2="233.20" stroke="#111" stroke-width="0.9"/>
<rect x="309.56" y="178.00" width="5.30" height="6.80" fill="#a9ba80"/>
<rect x="309.56" y="191.00" width="5.30" height="49.30" fill="#a9ba80"/>
<rect x="316.96" y="178.00" width="5.30" height="6.80" fill="#30694d"/>
<rect x="316.96" y="191.00" width="5.30" height="49.30" fill="#30694d"/>
<rect x="325.36" y="178.00" width="5.30" height="6.80" fill="#c6c5ca"/>
<rect x="325.36" y="191.00" width="5.30" height="49.30" fill="#c6c5ca"/>
<text font-size="6.8" text-anchor="middle" stroke="#1c1c1c" stroke-width="0.14" transform="translate(315.86 249.90)">Soil B</text>
<rect x="340.92" y="225.10" width="5.30" height="15.20" fill="#e9b81c"/>
<line x1="343.57" y1="225.10" x2="343.57" y2="222.80" stroke="#111" stroke-width="0.85"/>
<line x1="342.17" y1="223.25" x2="344.97" y2="223.25" stroke="#111" stroke-width="0.95"/>
<line x1="342.17" y1="225.50" x2="344.97" y2="225.50" stroke="#111" stroke-width="0.9"/>
<rect x="349.02" y="178.00" width="5.30" height="6.80" fill="#a9ba80"/>
<rect x="349.02" y="191.00" width="5.30" height="49.30" fill="#a9ba80"/>
<rect x="356.42" y="178.00" width="5.30" height="6.80" fill="#30694d"/>
<rect x="356.42" y="191.00" width="5.30" height="49.30" fill="#30694d"/>
<rect x="364.82" y="178.00" width="5.30" height="6.80" fill="#c6c5ca"/>
<rect x="364.82" y="191.00" width="5.30" height="49.30" fill="#c6c5ca"/>
<text font-size="6.8" text-anchor="middle" stroke="#1c1c1c" stroke-width="0.14" transform="translate(355.32 249.90)">Soil C2</text>
<rect x="380.38" y="231.60" width="5.30" height="8.70" fill="#e9b81c"/>
<line x1="383.03" y1="231.60" x2="383.03" y2="230.50" stroke="#111" stroke-width="0.85"/>
<line x1="381.63" y1="230.95" x2="384.43" y2="230.95" stroke="#111" stroke-width="0.95"/>
<line x1="381.63" y1="232.00" x2="384.43" y2="232.00" stroke="#111" stroke-width="0.9"/>
<rect x="388.48" y="178.00" width="5.30" height="6.80" fill="#a9ba80"/>
<rect x="388.48" y="191.00" width="5.30" height="49.30" fill="#a9ba80"/>
<rect x="395.88" y="178.00" width="5.30" height="6.80" fill="#30694d"/>
<rect x="395.88" y="191.00" width="5.30" height="49.30" fill="#30694d"/>
<rect x="404.28" y="178.00" width="5.30" height="6.80" fill="#c6c5ca"/>
<rect x="404.28" y="191.00" width="5.30" height="49.30" fill="#c6c5ca"/>
<text font-size="6.8" text-anchor="middle" stroke="#1c1c1c" stroke-width="0.14" transform="translate(394.78 249.90)">Soil C3</text>
<rect x="419.84" y="235.10" width="5.30" height="5.20" fill="#e9b81c"/>
<line x1="422.49" y1="235.10" x2="422.49" y2="233.70" stroke="#111" stroke-width="0.85"/>
<line x1="421.09" y1="234.15" x2="423.89" y2="234.15" stroke="#111" stroke-width="0.95"/>
<line x1="421.09" y1="235.50" x2="423.89" y2="235.50" stroke="#111" stroke-width="0.9"/>
<rect x="427.94" y="178.00" width="5.30" height="6.80" fill="#a9ba80"/>
<rect x="427.94" y="191.00" width="5.30" height="49.30" fill="#a9ba80"/>
<rect x="435.34" y="178.00" width="5.30" height="6.80" fill="#30694d"/>
<rect x="435.34" y="191.00" width="5.30" height="49.30" fill="#30694d"/>
<rect x="443.74" y="178.00" width="5.30" height="6.80" fill="#c6c5ca"/>
<rect x="443.74" y="191.00" width="5.30" height="49.30" fill="#c6c5ca"/>
<text font-size="6.8" text-anchor="middle" stroke="#1c1c1c" stroke-width="0.14" transform="translate(434.24 249.90)">Kaolinite</text>
<rect x="459.30" y="233.90" width="5.30" height="6.40" fill="#e9b81c"/>
<line x1="461.95" y1="233.90" x2="461.95" y2="232.40" stroke="#111" stroke-width="0.85"/>
<line x1="460.55" y1="232.85" x2="463.35" y2="232.85" stroke="#111" stroke-width="0.95"/>
<line x1="460.55" y1="234.30" x2="463.35" y2="234.30" stroke="#111" stroke-width="0.9"/>
<rect x="467.40" y="236.20" width="5.30" height="4.10" fill="#a9ba80"/>
<line x1="470.05" y1="236.20" x2="470.05" y2="233.30" stroke="#111" stroke-width="0.85"/>
<line x1="468.65" y1="233.75" x2="471.45" y2="233.75" stroke="#111" stroke-width="0.95"/>
<line x1="468.65" y1="236.60" x2="471.45" y2="236.60" stroke="#111" stroke-width="0.9"/>
<rect x="474.80" y="237.00" width="5.30" height="3.30" fill="#30694d"/>
<line x1="477.45" y1="237.00" x2="477.45" y2="235.30" stroke="#111" stroke-width="0.85"/>
<line x1="476.05" y1="235.75" x2="478.85" y2="235.75" stroke="#111" stroke-width="0.95"/>
<line x1="476.05" y1="237.40" x2="478.85" y2="237.40" stroke="#111" stroke-width="0.9"/>
<rect x="483.20" y="231.10" width="5.30" height="9.20" fill="#c6c5ca"/>
<line x1="485.85" y1="231.10" x2="485.85" y2="228.30" stroke="#111" stroke-width="0.85"/>
<line x1="484.45" y1="228.75" x2="487.25" y2="228.75" stroke="#111" stroke-width="0.95"/>
<line x1="484.45" y1="231.50" x2="487.25" y2="231.50" stroke="#111" stroke-width="0.9"/>
<text font-size="6.8" text-anchor="middle" stroke="#1c1c1c" stroke-width="0.14" transform="translate(473.70 249.90)">TF</text>
<line x1="351.80" y1="191.20" x2="351.80" y2="206.30" stroke="#111" stroke-width="0.85"/>
<line x1="350.30" y1="206.30" x2="353.30" y2="206.30" stroke="#111" stroke-width="1.0"/>
<line x1="438.30" y1="191.80" x2="438.30" y2="194.60" stroke="#111" stroke-width="0.85"/>
<path d="M436.80 191.60H439.80L438.85 193.00H437.75Z" fill="#111"/>
<rect x="460.90" y="188.40" width="9.00" height="4.40" fill="#e9b81c"/>
<text font-size="6.8" stroke="#1c1c1c" stroke-width="0.14" transform="translate(472.80 193.00)">Human</text>
<rect x="460.90" y="197.80" width="9.00" height="4.40" fill="#a9ba80"/>
<text font-size="6.8" stroke="#1c1c1c" stroke-width="0.14" transform="translate(472.80 202.40)">FKW Dolphin</text>
<rect x="460.90" y="207.30" width="9.00" height="4.40" fill="#30694d"/>
<text font-size="6.8" stroke="#1c1c1c" stroke-width="0.14" transform="translate(472.80 211.90)">PWS Dolphin</text>
<rect x="460.90" y="216.90" width="9.00" height="4.40" fill="#c6c5ca"/>
<text font-size="6.8" stroke="#1c1c1c" stroke-width="0.14" transform="translate(472.80 221.50)">Chicken</text>
</g>
<rect x="0.5" y="0.5" width="519" height="321" fill="none" stroke="#000" stroke-width="1"/>
</svg>
</body></html>
